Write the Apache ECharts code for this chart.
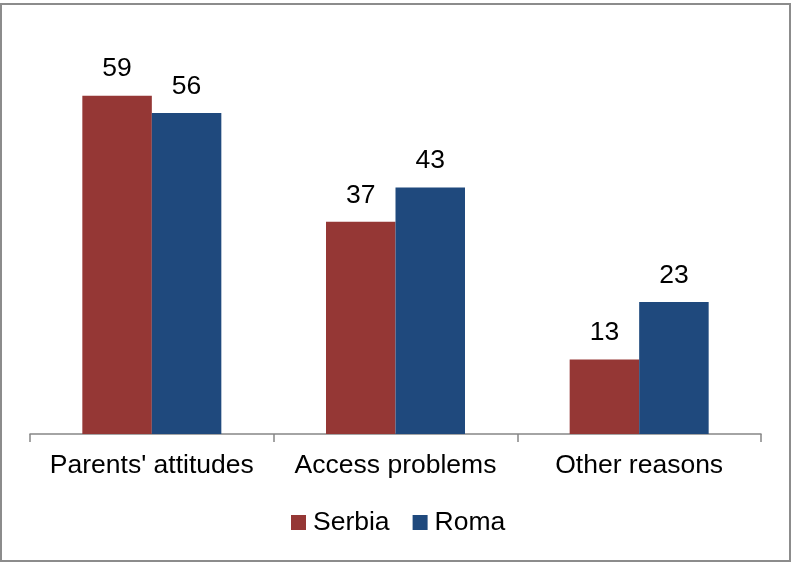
<!DOCTYPE html>
<html>
<head>
<meta charset="utf-8">
<script src="https://cdn.jsdelivr.net/npm/echarts@6/dist/echarts.min.js"></script>
<style>
html,body{margin:0;padding:0;background:#fff;}
#chart{position:absolute;left:0;top:0;width:791px;height:562px;}
#frame{position:absolute;left:0;top:3px;width:791px;height:559px;box-sizing:border-box;border:2px solid #8c8c8c;pointer-events:none;}
</style>
</head>
<body>
<div id="chart"></div>
<div id="frame"></div>
<script>
const categories = ["Parents' attitudes", "Access problems", "Other reasons"];
const serbia = [59, 37, 13];
const roma = [56, 43, 23];
const seriesNames = ["Serbia", "Roma"];

const font = "'Liberation Sans', Arial, sans-serif";
const fs = 26.5;
const chart = echarts.init(document.getElementById('chart'));
const labelStyle = {show: true, position: 'top', distance: 13, fontSize: fs, color: '#000', fontFamily: font};
chart.setOption({
  animation: false,
  grid: {left: 30, right: 30, top: 32.6, bottom: 128},
  legend: {
    data: seriesNames,
    left: 286, top: 504,
    icon: 'rect', itemWidth: 15, itemHeight: 15, itemGap: 23,
    textStyle: {fontSize: fs, color: '#000', fontFamily: font, padding: [0, 0, 0, 2]}
  },
  xAxis: {
    type: 'category',
    data: categories,
    axisLine: {lineStyle: {color: '#868686', width: 1.5}},
    axisTick: {show: true, length: 8, lineStyle: {color: '#868686', width: 1.5}},
    axisLabel: {interval: 0, fontSize: fs, color: '#000', fontFamily: font, margin: 18}
  },
  yAxis: {
    type: 'value', min: 0, max: 70,
    show: false,
    splitLine: {show: false}
  },
  series: [
    {name: seriesNames[0], type: 'bar', data: serbia, barWidth: 69.5, barGap: '0%',
     itemStyle: {color: '#953735'}, label: labelStyle},
    {name: seriesNames[1], type: 'bar', data: roma, barWidth: 69.5, barGap: '0%',
     itemStyle: {color: '#1F497D'}, label: labelStyle}
  ]
});
</script>
</body>
</html>
